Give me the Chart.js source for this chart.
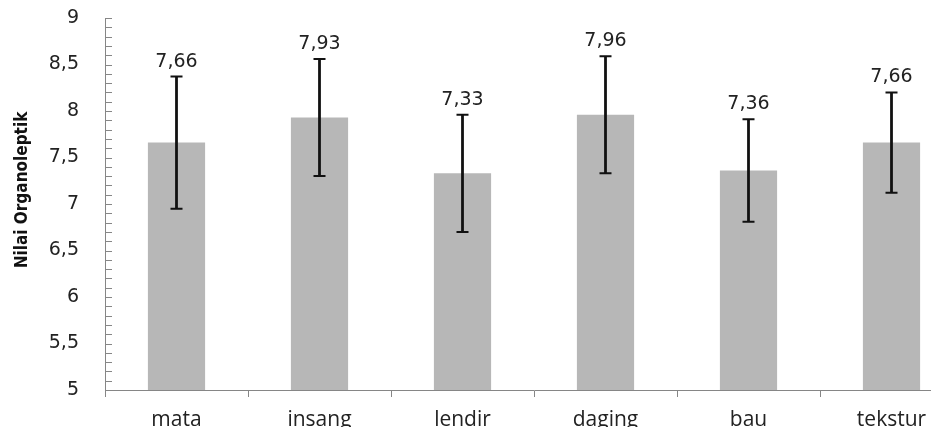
<!DOCTYPE html>
<html lang="id">
<head>
    <meta charset="UTF-8">
    <title>Nilai Organoleptik</title>
    <style>
        html, body { margin: 0; padding: 0; background: #ffffff; overflow: hidden; }
        #wrap { position: absolute; left: 0; top: 0; width: 970px; height: 427px; }
    </style>
</head>
<body>
    <div id="wrap"><canvas id="myChart"></canvas></div>

    <script src="https://cdn.jsdelivr.net/npm/chart.js"></script>
    <script>
        const labels = ['mata', 'insang', 'lendir', 'daging', 'bau', 'tekstur'];
        const nilai = [7.66, 7.93, 7.33, 7.96, 7.36, 7.66];
        const galat = [0.71, 0.63, 0.63, 0.63, 0.55, 0.54];
        const yMin = 5, yMax = 9, yStep = 0.5, yMinor = 0.1;
        const yTitle = 'Nilai Organoleptik';

        const fmt = v => String(v).replace('.', ',');
        const axisColor = '#868686';

        // error bars, value labels, minor ticks and the axis title
        const extras = {
            id: 'extras',
            afterDatasetsDraw(chart) {
                const ctx = chart.ctx;
                const y = chart.scales.y;
                const area = chart.chartArea;
                const meta = chart.getDatasetMeta(0);
                ctx.save();

                meta.data.forEach((bar, i) => {
                    const top = y.getPixelForValue(nilai[i] + galat[i]);
                    const bot = y.getPixelForValue(nilai[i] - galat[i]);
                    ctx.strokeStyle = '#111111';
                    ctx.lineWidth = 2.8;
                    ctx.beginPath();
                    ctx.moveTo(bar.x, top); ctx.lineTo(bar.x, bot);
                    ctx.stroke();
                    ctx.lineWidth = 2;
                    ctx.beginPath();
                    ctx.moveTo(bar.x - 6, top); ctx.lineTo(bar.x + 6, top);
                    ctx.moveTo(bar.x - 6, bot); ctx.lineTo(bar.x + 6, bot);
                    ctx.stroke();

                    ctx.fillStyle = '#222222';
                    ctx.font = '19px "DejaVu Sans"';
                    ctx.textAlign = 'center';
                    ctx.textBaseline = 'alphabetic';
                    ctx.fillText(fmt(nilai[i]), bar.x, top - 10);
                });

                ctx.strokeStyle = axisColor;
                ctx.lineWidth = 1;
                ctx.beginPath();
                const n = Math.round((yMax - yMin) / yMinor);
                for (let k = 0; k <= n; k++) {
                    const py = Math.round(y.getPixelForValue(yMin + k * yMinor)) + 0.5;
                    ctx.moveTo(area.left, py);
                    ctx.lineTo(area.left + 7, py);
                }
                ctx.stroke();

                ctx.translate(23, (area.top + area.bottom) / 2 - 14);
                ctx.rotate(-Math.PI / 2);
                ctx.fillStyle = '#111111';
                ctx.font = 'bold 17px "Liberation Sans Narrow", "DejaVu Sans Condensed", sans-serif';
                ctx.textAlign = 'center';
                ctx.textBaseline = 'middle';
                ctx.fillText(yTitle, 0, 0);
                ctx.restore();
            }
        };

        const ctx = document.getElementById('myChart');
        new Chart(ctx, {
            type: 'bar',
            data: {
                labels: labels,
                datasets: [{
                    data: nilai,
                    backgroundColor: '#b7b7b7',
                    barPercentage: 0.4,
                    categoryPercentage: 1
                }]
            },
            options: {
                responsive: true,
                maintainAspectRatio: false,
                animation: false,
                layout: { padding: { left: 0, right: 7, top: 18, bottom: 0 } },
                plugins: {
                    legend: { display: false },
                    tooltip: { enabled: false }
                },
                scales: {
                    x: {
                        grid: { offset: true, drawOnChartArea: false, drawTicks: true, tickLength: 7, color: axisColor },
                        border: { color: axisColor },
                        ticks: { padding: 10, color: '#222222', font: { family: 'Open Sans', size: 21 } },
                        afterFit: s => { s.height = 37; s.paddingLeft = 0; s.paddingRight = 0; }
                    },
                    y: {
                        min: yMin,
                        max: yMax,
                        grid: { drawOnChartArea: false, drawTicks: false },
                        border: { color: axisColor },
                        ticks: {
                            stepSize: yStep,
                            padding: 26,
                            color: '#222222',
                            font: { family: 'DejaVu Sans', size: 19 },
                            callback: v => fmt(v)
                        },
                        afterFit: s => { s.width = 105; s.paddingTop = 0; s.paddingBottom = 0; }
                    }
                }
            },
            plugins: [extras]
        });
    </script>
</body>
</html>
